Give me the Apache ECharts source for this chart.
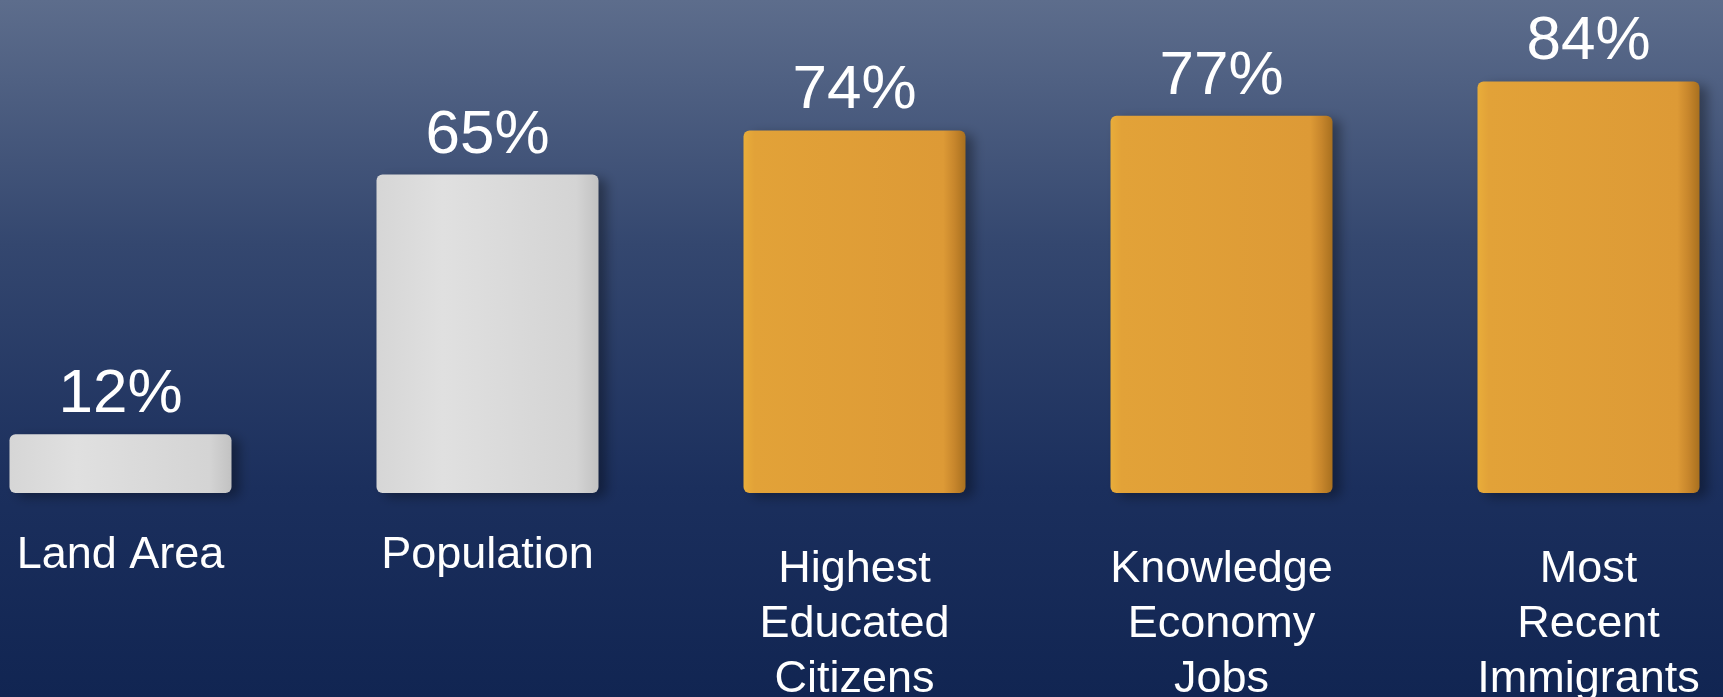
<!DOCTYPE html>
<html>
<head>
<meta charset="utf-8">
<script src="https://cdn.jsdelivr.net/npm/echarts@6/dist/echarts.min.js"></script>
<style>
  html, body { margin: 0; padding: 0; }
  #chart { width: 1723px; height: 697px; }
</style>
</head>
<body>
<div id="chart"></div>
<script>
// categories and shares (%)
const categories = ['Land Area', 'Population', 'Highest\nEducated\nCitizens', 'Knowledge\nEconomy\nJobs', 'Most\nRecent\nImmigrants'];
const shares = [12, 65, 74, 77, 84];
const highlighted = [false, false, true, true, true];

const chart = echarts.init(document.getElementById('chart'));

const whiteFill = new echarts.graphic.LinearGradient(0, 0, 1, 0, [
  { offset: 0, color: '#d6d6d6' },
  { offset: 0.3, color: '#e0e0e0' },
  { offset: 0.9, color: '#d4d4d4' },
  { offset: 1, color: '#c2c2c2' }
]);
const orangeFill = new echarts.graphic.LinearGradient(0, 0, 1, 0, [
  { offset: 0, color: '#e9ad3a' },
  { offset: 0.05, color: '#e2a238' },
  { offset: 0.9, color: '#dd9a36' },
  { offset: 0.95, color: '#c7862c' },
  { offset: 1, color: '#a8701f' }
]);

const option = {
  backgroundColor: new echarts.graphic.LinearGradient(0, 0, 0, 1, [
    { offset: 0, color: '#5d6d8c' },
    { offset: 0.35, color: '#34476f' },
    { offset: 0.7, color: '#1b2f5d' },
    { offset: 1, color: '#112552' }
  ]),
  animation: false,
  grid: { left: -63, right: -49, top: 3, bottom: 204, outerBoundsMode: 'none' },
  xAxis: {
    type: 'category',
    data: categories.map(c => ({
      value: c,
      textStyle: { padding: c.indexOf('\n') >= 0 ? [14, 0, 0, 0] : 0 }
    })),
    axisLine: { show: false },
    axisTick: { show: false },
    axisLabel: {
      interval: 0,
      margin: 35,
      color: '#ffffff',
      fontFamily: 'Liberation Sans, Arial, sans-serif',
      fontSize: 45,
      lineHeight: 55,
      verticalAlign: 'top'
    }
  },
  yAxis: {
    type: 'value',
    min: 0,
    max: 100,
    show: false,
    splitLine: { show: false }
  },
  series: [{
    type: 'bar',
    barWidth: 222,
    data: shares.map((v, i) => ({
      value: v,
      itemStyle: {
        color: highlighted[i] ? orangeFill : whiteFill,
        borderRadius: 6,
        shadowColor: 'rgba(0,0,0,0.35)',
        shadowBlur: 12,
        shadowOffsetX: 8,
        shadowOffsetY: 4
      }
    })),
    label: {
      show: true,
      position: 'top',
      distance: 8,
      color: '#ffffff',
      fontFamily: 'Liberation Sans, Arial, sans-serif',
      fontSize: 62,
      formatter: p => p.value + '%'
    }
  }]
};

chart.setOption(option);
</script>
</body>
</html>
